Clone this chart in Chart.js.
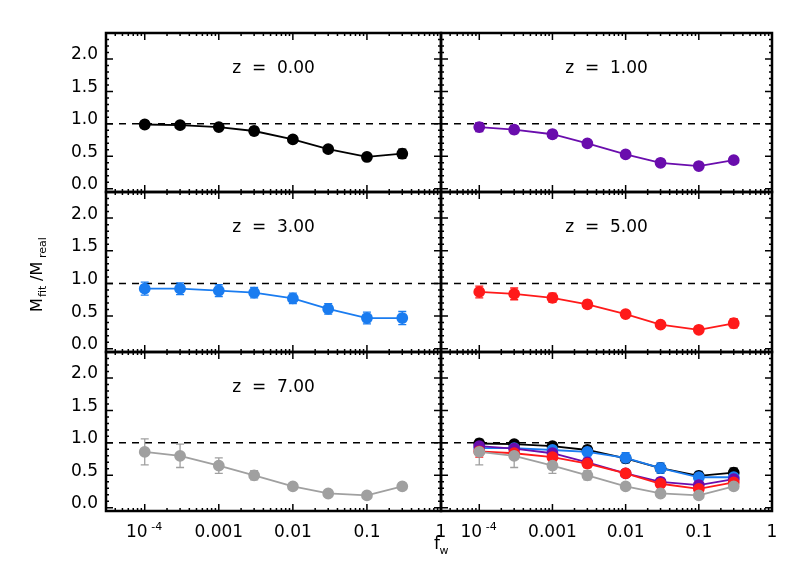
<!DOCTYPE html>
<html><head><meta charset="utf-8">
<script src="https://cdn.jsdelivr.net/npm/chart.js@4"></script>
<style>
body{margin:0;background:#fff;}
#wrap{position:relative;width:810px;height:578px;}
canvas{position:absolute;left:0;top:0;}
</style></head><body>
<div id="wrap"></div>
<script>
// Dados
const fw = [1e-4, 3e-4, 1e-3, 3e-3, 0.01, 0.03, 0.1, 0.3];
const redshifts = ['0.00', '1.00', '3.00', '5.00', '7.00'];
const colors = ['#000000', '#6a0dad', '#1a7cf0', '#ff1a1a', '#a0a0a0'];
const m_z0 = [0.99, 0.98, 0.95, 0.89, 0.76, 0.61, 0.49, 0.54];
const e_z0 = [0.05, 0.05, 0.04, 0.06, 0.05, 0.04, 0.04, 0.07];
const m_z1 = [0.95, 0.91, 0.84, 0.70, 0.53, 0.40, 0.35, 0.44];
const e_z1 = [0.07, 0.06, 0.06, 0.04, 0.03, 0.03, 0.03, 0.05];
const m_z3 = [0.92, 0.92, 0.89, 0.86, 0.77, 0.61, 0.47, 0.47];
const e_z3 = [0.10, 0.09, 0.09, 0.08, 0.08, 0.08, 0.09, 0.10];
const m_z5 = [0.87, 0.84, 0.78, 0.68, 0.53, 0.37, 0.29, 0.39];
const e_z5 = [0.09, 0.09, 0.07, 0.06, 0.04, 0.03, 0.03, 0.07];
const m_z7 = [0.86, 0.80, 0.65, 0.50, 0.33, 0.22, 0.19, 0.33];
const e_z7 = [0.20, 0.18, 0.12, 0.07, 0.04, 0.03, 0.03, 0.05];
const yTicks = [0.0, 0.5, 1.0, 1.5, 2.0];
const xTickLabels = ['10^-4', '0.001', '0.01', '0.1', '1'];

const means = [m_z0, m_z1, m_z3, m_z5, m_z7];
const errs = [e_z0, e_z1, e_z3, e_z5, e_z7];

// Geometria dos paineis
const colX = [106, 441, 772];
const rowY = [33, 192, 352, 511];
const W = 810, H = 578;

const wrap = document.getElementById('wrap');

// plugin: moldura, ticks, barras de erro, textos
const panelPlugin = {
  id: 'panel',
  beforeDatasetsDraw(chart) {
    const o = chart.options.plugins.panel;
    const ctx = chart.ctx, x = chart.scales.x, y = chart.scales.y, a = chart.chartArea;
    ctx.save();
    // linha tracejada em 1
    ctx.strokeStyle = '#000'; ctx.lineWidth = 1.5; ctx.setLineDash([7, 6]);
    ctx.beginPath(); ctx.moveTo(a.left, y.getPixelForValue(1)); ctx.lineTo(a.right, y.getPixelForValue(1)); ctx.stroke();
    ctx.setLineDash([]);
    // barras de erro
    o.series.forEach(s => {
      ctx.strokeStyle = colors[s]; ctx.lineWidth = 1.3;
      fw.forEach((f, i) => {
        const px = x.getPixelForValue(f);
        const y1 = y.getPixelForValue(means[s][i] - errs[s][i]);
        const y2 = y.getPixelForValue(means[s][i] + errs[s][i]);
        ctx.beginPath();
        ctx.moveTo(px, y1); ctx.lineTo(px, y2);
        ctx.moveTo(px - 4, y1); ctx.lineTo(px + 4, y1);
        ctx.moveTo(px - 4, y2); ctx.lineTo(px + 4, y2);
        ctx.stroke();
      });
    });
    ctx.restore();
  },
  afterDraw(chart) {
    const o = chart.options.plugins.panel;
    const ctx = chart.ctx, x = chart.scales.x, y = chart.scales.y, a = chart.chartArea;
    ctx.save();
    ctx.strokeStyle = '#000'; ctx.lineWidth = 2.5;
    ctx.strokeRect(a.left, a.top, a.right - a.left, a.bottom - a.top);
    ctx.lineWidth = 1.5;
    ctx.beginPath();
    for (let d = -5; d <= 0; d++) {
      for (let m = 1; m <= 9; m++) {
        const v = m * Math.pow(10, d);
        if (v < x.min || v > x.max) continue;
        const px = x.getPixelForValue(v), len = m === 1 ? 7 : 3;
        ctx.moveTo(px, a.bottom); ctx.lineTo(px, a.bottom - len);
        ctx.moveTo(px, a.top); ctx.lineTo(px, a.top + len);
      }
    }
    for (let k = 0; k <= 24; k++) {
      const v = k / 10, py = y.getPixelForValue(v), len = k % 5 === 0 ? 7 : 3;
      ctx.moveTo(a.left, py); ctx.lineTo(a.left + len, py);
      ctx.moveTo(a.right, py); ctx.lineTo(a.right - len, py);
    }
    ctx.stroke();
    ctx.fillStyle = '#000';
    ctx.font = '17px "DejaVu Sans"';
    ctx.textAlign = 'center'; ctx.textBaseline = 'middle';
    if (o.title) ctx.fillText(o.title, (a.left + a.right) / 2, a.top + 36);
    if (o.yLabels) {
      ctx.textAlign = 'right';
      yTicks.forEach(t => ctx.fillText(t.toFixed(1), a.left - 8, y.getPixelForValue(t) - 4));
    }
    if (o.xLabels) {
      ctx.textAlign = 'center';
      [1e-4, 1e-3, 0.01, 0.1, 1].forEach((v, i) => {
        const px = x.getPixelForValue(v), lbl = xTickLabels[i];
        if (lbl.startsWith('10^')) {
          ctx.fillText('10', px - 8, a.bottom + 22);
          ctx.font = '11px "DejaVu Sans"';
          ctx.fillText(lbl.slice(3), px + 12, a.bottom + 16);
          ctx.font = '17px "DejaVu Sans"';
        } else ctx.fillText(lbl, px, a.bottom + 22);
      });
    }
    ctx.restore();
  }
};

function makePanel(col, row, series, title) {
  const cv = document.createElement('canvas');
  cv.width = W; cv.height = H;
  wrap.appendChild(cv);
  const datasets = series.map(s => ({
    data: fw.map((f, i) => ({ x: f, y: means[s][i] })),
    borderColor: colors[s], backgroundColor: colors[s],
    showLine: true, borderWidth: 1.8, pointRadius: 5, pointHoverRadius: 5
  }));
  new Chart(cv, {
    type: 'scatter',
    data: { datasets },
    options: {
      responsive: false, animation: false, events: [],
      layout: { padding: { left: colX[col], right: W - colX[col + 1], top: rowY[row], bottom: H - rowY[row + 1] } },
      scales: {
        x: { type: 'logarithmic', min: 3e-5, max: 1, display: false },
        y: { min: -0.05, max: 2.4, display: false }
      },
      plugins: {
        legend: { display: false }, tooltip: { enabled: false },
        panel: { series, title, yLabels: col === 0, xLabels: row === 2 && col === 0 }
      }
    },
    plugins: [panelPlugin]
  });
}

makePanel(0, 0, [0], 'z  =  ' + redshifts[0]);
makePanel(1, 0, [1], 'z  =  ' + redshifts[1]);
makePanel(0, 1, [2], 'z  =  ' + redshifts[2]);
makePanel(1, 1, [3], 'z  =  ' + redshifts[3]);
makePanel(0, 2, [4], 'z  =  ' + redshifts[4]);
makePanel(1, 2, [4, 3, 1, 2, 0], '');

// eixo x do painel direito inferior e rotulos dos eixos
const overlay = document.createElement('canvas');
overlay.width = W; overlay.height = H; wrap.appendChild(overlay);
const c = overlay.getContext('2d');
c.fillStyle = '#000'; c.font = '17px "DejaVu Sans"'; c.textAlign = 'center'; c.textBaseline = 'middle';
const dec = (colX[2] - colX[1]) / (0 - Math.log10(3e-5));
[1e-4, 1e-3, 0.01, 0.1, 1].forEach((v, i) => {
  const px = colX[1] + (Math.log10(v) - Math.log10(3e-5)) * dec, lbl = xTickLabels[i];
  if (lbl.startsWith('10^')) {
    c.fillText('10', px - 8, rowY[3] + 22);
    c.font = '11px "DejaVu Sans"'; c.fillText(lbl.slice(3), px + 12, rowY[3] + 16);
    c.font = '17px "DejaVu Sans"';
  } else c.fillText(lbl, px, rowY[3] + 22);
});
c.fillText('f', 437, 545);
c.font = '11px "DejaVu Sans"'; c.fillText('w', 444, 551);
c.save();
c.translate(38, 272); c.rotate(-Math.PI / 2);
c.font = '16px "DejaVu Sans"'; c.textAlign = 'left';
c.fillText('M', -40, 0); c.font = '11px "DejaVu Sans"'; c.fillText('fit', -25, 5);
c.font = '16px "DejaVu Sans"'; c.fillText('/M', -9, 0);
c.font = '11px "DejaVu Sans"'; c.fillText('real', 14, 5);
c.restore();
</script>
</body></html>
